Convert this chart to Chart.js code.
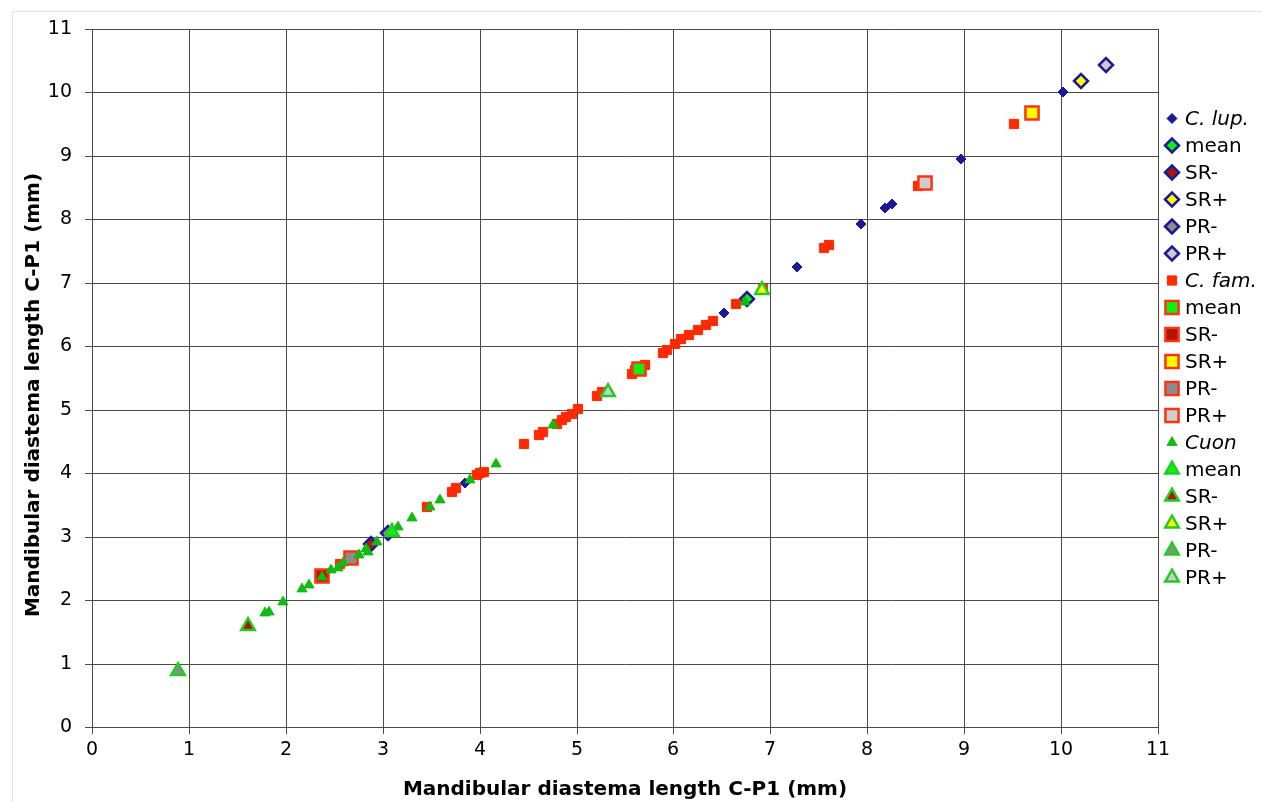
<!DOCTYPE html>
<html>
<head>
<meta charset="utf-8">
<script src="https://cdn.jsdelivr.net/npm/chart.js@4.4.1/dist/chart.umd.min.js"></script>
<style>
  html, body { margin: 0; padding: 0; background: #fff; }
  #wrap { position: relative; width: 1262px; height: 802px; }
</style>
</head>
<body>
<div id="wrap"><canvas id="chart" width="1262" height="802"></canvas></div>
<script>
// axis ticks
const xTicks = [0, 1, 2, 3, 4, 5, 6, 7, 8, 9, 10, 11];
const yTicks = [0, 1, 2, 3, 4, 5, 6, 7, 8, 9, 10, 11];

// stat order: mean, SR-, SR+, PR-, PR+
const statNames = ['mean', 'SR-', 'SR+', 'PR-', 'PR+'];

// C. lupus
const lupX = [3.85, 4.98, 6.52, 7.28, 7.94, 8.18, 8.25, 8.97, 10.02];
const lupY = [3.84, 4.96, 6.52, 7.25, 7.93, 8.18, 8.24, 8.95, 10.01];
const lupStatX = [6.76, 2.88, 10.21, 3.05, 10.46];
const lupStatY = [6.74, 2.89, 10.18, 3.05, 10.43];

// C. familiaris
const famX = [2.56, 3.46, 3.71, 3.76, 3.97, 4.00, 4.04, 4.46, 4.61, 4.65, 4.80, 4.85, 4.89, 4.95, 5.01,
  5.21, 5.26, 5.57, 5.60, 5.71, 5.89, 5.93, 6.02, 6.08, 6.16, 6.25, 6.34, 6.41, 6.65, 6.92, 7.55, 7.60, 8.52, 9.51];
const famY = [2.57, 3.47, 3.71, 3.76, 3.97, 4.00, 4.02, 4.46, 4.60, 4.65, 4.78, 4.84, 4.89, 4.94, 5.01,
  5.21, 5.28, 5.56, 5.62, 5.71, 5.90, 5.94, 6.04, 6.11, 6.18, 6.26, 6.34, 6.40, 6.67, 6.91, 7.55, 7.59, 8.52, 9.50];
const famStatX = [5.64, 2.37, 9.70, 2.67, 8.60];
const famStatY = [5.64, 2.38, 9.68, 2.67, 8.58];

// Cuon
const cuonX = [1.79, 1.83, 1.97, 2.17, 2.24, 2.37, 2.47, 2.54, 2.59, 2.75, 2.83, 2.85, 2.94, 3.16, 3.30,
  3.49, 3.59, 3.90, 4.17, 4.76, 6.74];
const cuonY = [1.79, 1.82, 1.97, 2.17, 2.23, 2.37, 2.47, 2.51, 2.58, 2.71, 2.80, 2.76, 2.92, 3.15, 3.29,
  3.47, 3.58, 3.89, 4.15, 4.76, 6.70];
const cuonStatX = [3.10, 1.61, 6.91, 0.89, 5.32];
const cuonStatY = [3.08, 1.59, 6.89, 0.88, 5.28];

const NAVY = '#1a1a99';
const RED = '#ff2a00';
const GREEN = '#11bb11';
const statFills = ['#11ee11', '#b01500', '#ffff00', '#8c8c8c', '#cdcdcd'];
const FONT = '"DejaVu Sans", Verdana, sans-serif';
const titleText = 'Mandibular diastema length C-P1 (mm)';

function pts(xs, ys) {
  return xs.map((x, i) => ({ x: x, y: ys[i] }));
}

function group(name, xs, ys, sxs, sys, style, color, statBorder, radius, statRadius) {
  const out = [{
    label: name, italic: true,
    data: pts(xs, ys),
    pointStyle: style, pointRadius: radius,
    pointBackgroundColor: color, pointBorderColor: color, pointBorderWidth: 1
  }];
  statNames.forEach((s, i) => {
    out.push({
      label: s, italic: false,
      data: [{ x: sxs[i], y: sys[i] }],
      pointStyle: style, pointRadius: statRadius,
      pointBackgroundColor: statFills[i], pointBorderColor: statBorder, pointBorderWidth: 2.5
    });
  });
  return out;
}

const datasets = [].concat(
  group('C. lup.', lupX, lupY, lupStatX, lupStatY, 'rectRot', NAVY, NAVY, 5, 7),
  group('C. fam.', famX, famY, famStatX, famStatY, 'rect', RED, '#ff3311', 6.5, 9.3),
  group('Cuon', cuonX, cuonY, cuonStatX, cuonStatY, 'triangle', GREEN, '#22cc22', 5.8, 7.8)
);
// later series are drawn on top
datasets.forEach((d, i) => {
  d.order = datasets.length - i;
  d.showLine = false;
  d.pointHoverRadius = d.pointRadius;
});

const legendPlugin = {
  id: 'sideLegend',
  beforeDraw(chart) {
    const ctx = chart.ctx;
    ctx.save();
    ctx.fillStyle = '#fff';
    ctx.fillRect(0, 0, chart.width, chart.height);
    ctx.strokeStyle = '#e2e2e2';
    ctx.lineWidth = 1;
    ctx.beginPath();
    ctx.moveTo(12.5, chart.height);
    ctx.lineTo(12.5, 11.5);
    ctx.lineTo(chart.width, 11.5);
    ctx.stroke();
    ctx.restore();
  },
  afterDraw(chart) {
    const ctx = chart.ctx;
    const drawPoint = Chart.helpers.drawPoint;
    chart.data.datasets.forEach((d, i) => {
      const y = 118.5 + i * 27;
      ctx.save();
      ctx.fillStyle = d.pointBackgroundColor;
      ctx.strokeStyle = d.pointBorderColor;
      ctx.lineWidth = d.pointBorderWidth;
      drawPoint(ctx, { pointStyle: d.pointStyle, radius: d.pointRadius, rotation: 0, borderWidth: d.pointBorderWidth }, 1172, y);
      ctx.fillStyle = '#000';
      ctx.font = (d.italic ? 'italic ' : '') + '20px ' + FONT;
      ctx.textBaseline = 'middle';
      ctx.textAlign = 'left';
      ctx.fillText(d.label, 1185, y + 1);
      ctx.restore();
    });

    // y axis title, placed a bit below the plot centre like the original
    ctx.save();
    ctx.translate(34, 395);
    ctx.rotate(-Math.PI / 2);
    ctx.fillStyle = '#000';
    ctx.font = 'bold 20px ' + FONT;
    ctx.textAlign = 'center';
    ctx.textBaseline = 'middle';
    ctx.fillText(titleText, 0, 0);
    ctx.restore();
  }
};

const tickFont = { family: FONT, size: 19 };
const titleFont = { family: FONT, size: 20, weight: 'bold' };

new Chart(document.getElementById('chart').getContext('2d'), {
  type: 'scatter',
  data: { datasets: datasets },
  options: {
    responsive: false,
    animation: false,
    devicePixelRatio: 1,
    layout: { padding: { left: 0, right: 104, top: 29, bottom: 0 } },
    plugins: { legend: { display: false }, tooltip: { enabled: false } },
    scales: {
      x: {
        type: 'linear', min: 0, max: 11,
        alignToPixels: true,
        afterBuildTicks: s => { s.ticks = xTicks.map(v => ({ value: v })); },
        ticks: { color: '#000', font: tickFont, padding: 5, maxRotation: 0 },
        grid: { color: '#4a4a4a', lineWidth: 1, tickLength: 7 },
        border: { color: '#4a4a4a' },
        title: { display: true, text: titleText, color: '#000', font: titleFont, padding: { top: 0, bottom: 0 } },
        afterFit: s => { s.height = 75; }
      },
      y: {
        type: 'linear', min: 0, max: 11,
        alignToPixels: true,
        afterBuildTicks: s => { s.ticks = yTicks.map(v => ({ value: v })); },
        ticks: { color: '#000', font: tickFont, padding: 13 },
        grid: { color: '#4a4a4a', lineWidth: 1, tickLength: 7 },
        border: { color: '#4a4a4a' },
        title: { display: false },
        afterFit: s => { s.width = 92; }
      }
    }
  },
  plugins: [legendPlugin]
});
</script>
</body>
</html>
